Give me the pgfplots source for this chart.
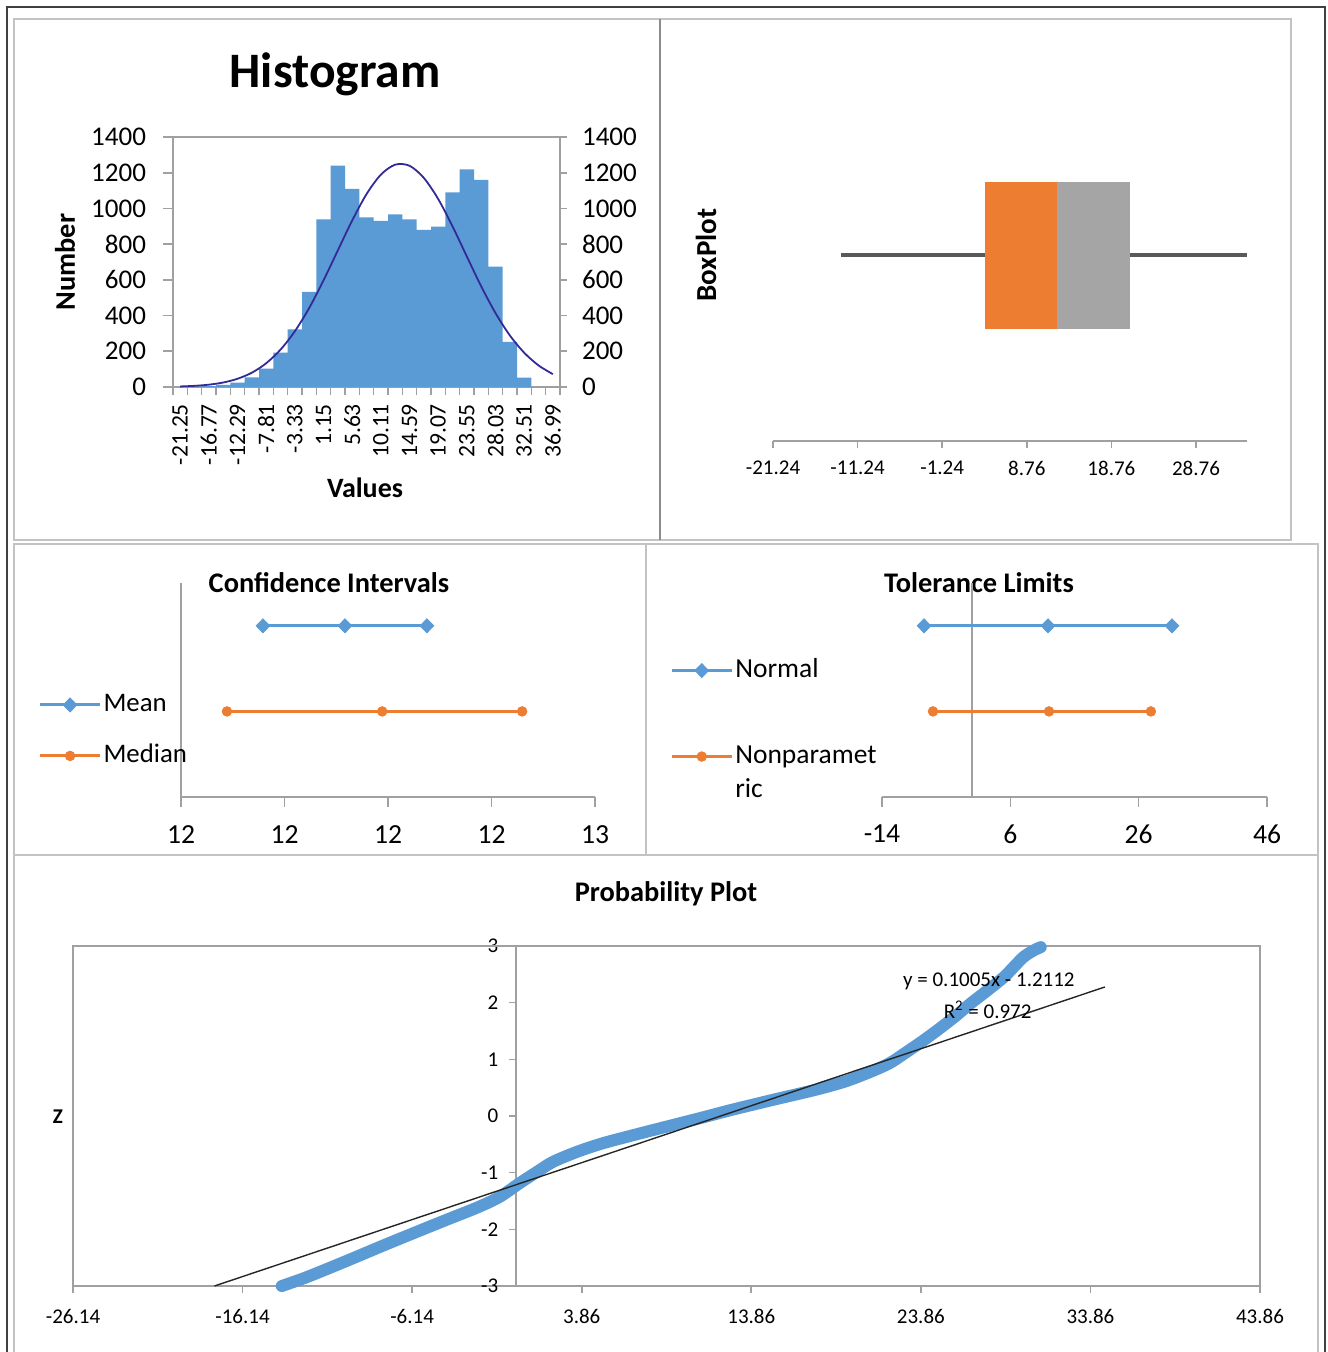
\documentclass[border=0pt]{standalone}
\usepackage{fontspec}
\setmainfont{Carlito}
\usepackage{pgfplots}
\pgfplotsset{compat=1.18}
\definecolor{xblue}{RGB}{91,155,213}
\definecolor{xorange}{RGB}{237,125,49}
\definecolor{xgray}{RGB}{165,165,165}
\definecolor{axgray}{RGB}{160,160,160}
\definecolor{panel}{RGB}{195,195,195}
\definecolor{whisk}{RGB}{89,89,89}
\definecolor{curve}{RGB}{50,42,150}
\newcommand\fs[1]{\fontsize{#1}{#1}\selectfont}
\pgfplotsset{
  xl/.style={scale only axis, clip=false,
    axis line style={axgray, line width=0.8pt},
    tick style={axgray, line width=0.8pt},
    tick align=outside},
}
\begin{document}
\begin{tikzpicture}
\path[use as bounding box] (0,0) rectangle (663.5pt,-676pt);
\fill[white] (0,0) rectangle (663.5pt,-676pt);
% frames
\draw[line width=1pt, black!75] (3.5pt,-3.5pt) rectangle (662.5pt,-690pt);
\draw[panel, line width=1pt] (7pt,-9.5pt) rectangle (330pt,-270pt);
\draw[panel, line width=1pt] (330pt,-9.5pt) rectangle (645.5pt,-270pt);
\draw[black!45, line width=1pt] (330pt,-9.5pt) -- (330pt,-270pt);
\draw[panel, line width=1pt] (7pt,-272pt) rectangle (323pt,-427.5pt);
\draw[panel, line width=1pt] (323pt,-272pt) rectangle (659pt,-427.5pt);
\draw[panel, line width=1pt] (7pt,-427.5pt) rectangle (659pt,-690pt);

% ---------------- Histogram ----------------
\begin{axis}[xl, at={(86.5pt,-193.5pt)}, anchor=south west, width=193.5pt, height=125pt,
  xmin=-0.5, xmax=26.5, ymin=0, ymax=1400,
  xtick pos=left, ytick pos=left,
  major tick length=5pt, minor tick length=4pt,
  ytick={0,200,...,1400}, yticklabels={0,200,400,600,800,1000,1200,1400},
  yticklabel style={font=\fs{13.5}, xshift=-5pt},
  xtick={0,2,...,26},
  xticklabels={-21.25,-16.77,-12.29,-7.81,-3.33,1.15,5.63,10.11,14.59,19.07,23.55,28.03,32.51,36.99},
  major x tick style={draw opacity=0},
  minor xtick={-0.5,0.5,...,26.5},
  xticklabel style={rotate=90, anchor=east, font=\fs{11.8}},
]
\addplot[ybar, bar width=1, fill=xblue, draw=none] coordinates {
(0,0)(1,2)(2,5)(3,12)(4,25)(5,54)(6,103)(7,192)(8,323)(9,532)(10,939)(11,1240)(12,1109)
(13,950)(14,930)(15,967)(16,939)(17,880)(18,898)(19,1090)(20,1219)(21,1160)(22,674)
(23,252)(24,52)(25,0)(26,0)};
\addplot[curve, line width=0.9pt, smooth] coordinates {
(0,3)(1,6.5)(2,13)(3,25)(4,46)(5,80)(6,133)(7,209)(8,312)(9,442)(10,597)(11,765)(12,932)
(13,1080)(14,1189)(15,1245)(16,1239)(17,1171)(18,1053)(19,900)(20,731)(21,564)(22,414)
(23,289)(24,192)(25,121)(26,72)};
\end{axis}
\begin{axis}[xl, at={(86.5pt,-193.5pt)}, anchor=south west, width=193.5pt, height=125pt,
  xmin=-0.5, xmax=26.5, ymin=0, ymax=1400,
  axis x line=none, axis y line*=right, major tick length=3.5pt,
  ytick={0,200,...,1400}, yticklabels={0,200,400,600,800,1000,1200,1400},
  yticklabel style={font=\fs{13.5}, xshift=4pt},
]
\addplot[draw=none] coordinates {(0,0)};
\end{axis}
\node[font=\fs{24.8}\bfseries] at (167.5pt,-37pt) {Histogram};
\node[font=\fs{14.2}\bfseries, rotate=90] at (32.5pt,-131pt) {Number};
\node[font=\fs{14}\bfseries] at (182.5pt,-244pt) {Values};

% ---------------- BoxPlot ----------------
\begin{axis}[xl, at={(386.5pt,-220.5pt)}, anchor=south west, width=237pt, height=150pt,
  xmin=-21.24, xmax=34.79, ymin=0, ymax=300,
  axis x line*=bottom, axis y line=none, major tick length=3.5pt,
  xtick={-21.24,-11.24,-1.24,8.76,18.76,28.76},
  xticklabels={-21.24,-11.24,-1.24,8.76,18.76,28.76},
  xticklabel style={font=\fs{10.5}, yshift=-3pt},
]
\addplot[fill=xorange, draw=none] coordinates {(3.82,112)(12.33,112)(12.33,259)(3.82,259)} -- cycle;
\addplot[fill=xgray, draw=none] coordinates {(12.33,112)(20.96,112)(20.96,259)(12.33,259)} -- cycle;
\addplot[whisk, line width=1.6pt] coordinates {(-13.2,186)(3.82,186)};
\addplot[whisk, line width=1.6pt] coordinates {(20.96,186)(34.79,186)};
\end{axis}
\node[font=\fs{14.5}\bfseries, rotate=90] at (353pt,-127.5pt) {BoxPlot};

% ---------------- Confidence Intervals ----------------
\node[font=\fs{14.2}\bfseries] at (164.5pt,-291.5pt) {Confidence Intervals};
\begin{axis}[xl, at={(90.5pt,-398.5pt)}, anchor=south west, width=207pt, height=107pt,
  xmin=11.5, xmax=12.5, ymin=0, ymax=2.5,
  axis x line*=bottom, axis y line*=left, ytick=\empty,
  major tick length=5pt,
  xtick={11.5,11.75,12,12.25,12.5}, xticklabels={12,12,12,12,13},
  xticklabel style={font=\fs{13.8}, yshift=-6pt},
  legend cell align=left,
  legend image code/.code={\draw[mark repeat=2,mark phase=2,#1] plot coordinates {(0pt,0pt)(15pt,0pt)(30pt,0pt)};},
  legend style={draw=none, fill=none, at={(-0.345,0.311)}, anchor=west, inner sep=0pt,
    font=\fs{13.4}, row sep=10.5pt, nodes={inner sep=1pt, text height=10pt, text depth=3pt}},
]
\addplot[xblue, line width=1.5pt, mark=diamond*, mark size=3.5pt, mark options={xscale=1.3, line width=0.4pt}]
  coordinates {(11.698,2)(11.896,2)(12.094,2)};
\addlegendentry{Mean}
\addplot[xorange, line width=1.5pt, mark=*, mark size=2.4pt, mark options={line width=0.4pt}]
  coordinates {(11.611,1)(11.986,1)(12.324,1)};
\addlegendentry{Median}
\end{axis}

% ---------------- Tolerance Limits ----------------
\node[font=\fs{14.2}\bfseries] at (489.5pt,-291.5pt) {Tolerance Limits};
\begin{axis}[xl, at={(441pt,-398.5pt)}, anchor=south west, width=192.5pt, height=107pt,
  xmin=-14, xmax=46, ymin=0, ymax=2.5,
  axis x line*=bottom, axis y line*=middle, ytick=\empty,
  major tick length=5pt,
  xtick={-14,6,26,46}, xticklabels={-14,6,26,46},
  xticklabel style={font=\fs{13.8}, yshift=-5.5pt},
  legend cell align=left,
  legend image code/.code={\draw[mark repeat=2,mark phase=2,#1] plot coordinates {(0pt,0pt)(15pt,0pt)(30pt,0pt)};},
  legend style={draw=none, fill=none, at={(-0.551,0.39)}, anchor=west, inner sep=0pt,
    font=\fontsize{13.75}{17}\selectfont, row sep=28pt, nodes={inner sep=1pt, text height=10pt, text depth=3pt}},
]
\addplot[xblue, line width=1.5pt, mark=diamond*, mark size=3.5pt, mark options={xscale=1.3, line width=0.4pt}]
  coordinates {(-7.45,2)(11.87,2)(31.19,2)};
\addlegendentry{Normal}
\addplot[xorange, line width=1.5pt, mark=*, mark size=2.4pt, mark options={line width=0.4pt}]
  coordinates {(-6.05,1)(12.03,1)(27.9,1)};
\addlegendentry{\begin{tabular}[t]{@{}l@{}}Nonparamet\\ric\end{tabular}}
\end{axis}

% ---------------- Probability Plot ----------------
\node[font=\fs{14.2}\bfseries] at (333pt,-447pt) {Probability Plot};
\node[font=\fs{10.5}\bfseries] at (29pt,-558.5pt) {Z};
\begin{axis}[xl, at={(36.5pt,-643pt)}, anchor=south west, width=593.5pt, height=170pt,
  xmin=-26.14, xmax=43.86, ymin=-3, ymax=3,
  axis x line*=bottom, axis y line*=middle,
  hide obscured x ticks=false, hide obscured y ticks=false,
  major tick length=3.5pt,
  xtick={-26.14,-16.14,-6.14,3.86,13.86,23.86,33.86,43.86},
  xticklabels={-26.14,-16.14,-6.14,3.86,13.86,23.86,33.86,43.86},
  ytick={-3,-2,-1,0,1,2,3}, yticklabels={-3,-2,-1,0,1,2,3},
  xticklabel style={font=\fs{10.5}, yshift=-4.5pt},
  yticklabel style={font=\fs{10.5}, xshift=-2pt},
]
\draw[axgray, line width=0.8pt] (rel axis cs:0,0) -- (rel axis cs:0,1) -- (rel axis cs:1,1) -- (rel axis cs:1,0);
\addplot[xblue, line width=6pt, line cap=round, line join=round, smooth] coordinates {
(-13.83,-3.0)(-12.5,-2.86)(-11.0,-2.68)(-9.63,-2.51)(-7.8,-2.28)(-5.92,-2.05)(-4.1,-1.83)
(-2.26,-1.61)(-1.0,-1.43)(0.22,-1.18)(1.2,-0.99)(2.16,-0.81)(3.6,-0.63)(5.11,-0.48)
(7.0,-0.33)(8.83,-0.19)(10.8,-0.04)(12.72,0.11)(15.2,0.29)(17.61,0.46)(19.3,0.6)
(20.73,0.76)(22.0,0.93)(22.92,1.11)(23.9,1.31)(24.86,1.52)(25.85,1.75)(26.81,1.99)
(27.8,2.22)(28.75,2.45)(29.4,2.65)(29.93,2.81)(30.5,2.92)(30.93,2.98)};
\addplot[black!85, line width=0.7pt] coordinates {(-17.8,-3)(34.71,2.277)};
\node[font=\fs{10.5}] at (axis cs:27.87,2.38) {y = 0.1005x - 1.2112};
\node[font=\fs{10.5}] at (axis cs:27.8,1.87) {R\textsuperscript{2} = 0.972};
\end{axis}
\end{tikzpicture}
\end{document}
